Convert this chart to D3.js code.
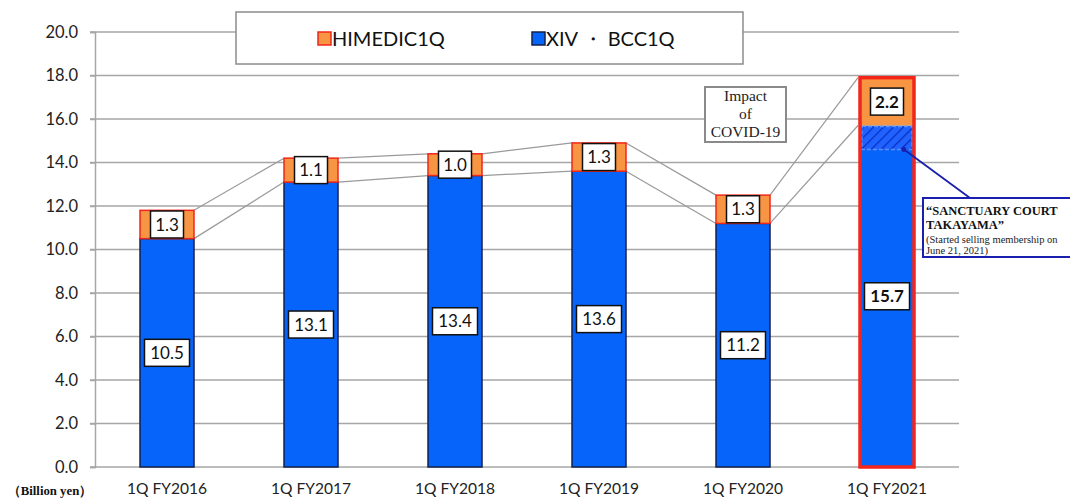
<!DOCTYPE html>
<html>
<head>
<meta charset="utf-8">
<script src="https://cdn.jsdelivr.net/npm/d3@7"></script>
<style>
  html, body { margin: 0; padding: 0; background: #fff; }
  svg { display: block; }
</style>
</head>
<body>
<svg id="chart" width="1070" height="499"></svg>
<script>
// Quarterly sales by segment (billion yen)
const periods = ["1Q FY2016", "1Q FY2017", "1Q FY2018", "1Q FY2019", "1Q FY2020", "1Q FY2021"];
const xivBcc = [10.5, 13.1, 13.4, 13.6, 11.2, 15.7];
const himedic = [1.3, 1.1, 1.0, 1.3, 1.3, 2.2];
// portion of the latest XIV/BCC figure coming from the new resort
const sanctuaryShare = 1.1;
const yTicks = [0, 2, 4, 6, 8, 10, 12, 14, 16, 18, 20];
const seriesNames = ["HIMEDIC1Q", "XIV ・ BCC1Q"];

const BLUE = "#0764fb", ORANGE = "#f79543", RED = "#f2261a", NAVY = "#13204a", GRID = "#a6a6a6";
const NUM_FONT = "Lato, 'Open Sans', sans-serif";
const SERIF = "'Liberation Serif', 'DejaVu Serif', serif";

const svg = d3.select("#chart");
const plotLeft = 95, plotRight = 959, plotTop = 32, plotBottom = 467;

const x = d3.scaleBand().domain(periods).range([plotLeft, plotRight]).paddingInner(0.625).paddingOuter(0.3125);
const y = d3.scaleLinear().domain([0, 20]).range([plotBottom, plotTop]);
const bw = x.bandwidth();

// hatch pattern for the new-resort slice
const defs = svg.append("defs");
const pat = defs.append("pattern").attr("id", "hatch").attr("patternUnits", "userSpaceOnUse")
  .attr("width", 7).attr("height", 7).attr("patternTransform", "rotate(45)");
pat.append("rect").attr("width", 7).attr("height", 7).attr("fill", "#1f62ff");
pat.append("line").attr("x1", 0).attr("y1", 0).attr("x2", 0).attr("y2", 7)
  .attr("stroke", "#0a2fb8").attr("stroke-width", 2.5);

// gridlines
svg.append("g").selectAll("line").data(yTicks).join("line")
  .attr("x1", plotLeft - 5).attr("x2", plotRight).attr("y1", d => y(d)).attr("y2", d => y(d))
  .attr("stroke", GRID).attr("stroke-width", 1.5);

// y axis
const yAxis = d3.axisLeft(y).tickValues(yTicks).tickFormat(d3.format(".1f")).tickSize(5).tickPadding(12);
const ga = svg.append("g").attr("transform", `translate(${plotLeft},0)`).call(yAxis);
ga.select(".domain").attr("stroke", GRID).attr("stroke-width", 1.5);
ga.selectAll(".tick line").attr("stroke", GRID).attr("stroke-width", 1.5);
ga.selectAll(".tick text").attr("font-family", NUM_FONT).attr("font-size", 16.5).attr("fill", "#222");

// x axis labels
const gx = svg.append("g").attr("transform", `translate(0,${plotBottom})`)
  .call(d3.axisBottom(x).tickSize(0).tickPadding(16));
gx.select(".domain").remove();
gx.selectAll(".tick text").attr("font-family", NUM_FONT).attr("font-size", 15).attr("fill", "#222")
  .attr("textLength", 80).attr("lengthAdjust", "spacingAndGlyphs");

svg.append("text").attr("x", 8).attr("y", 495).attr("font-family", SERIF).attr("font-weight", "bold")
  .attr("font-size", 13).attr("fill", "#111").attr("textLength", 84).attr("lengthAdjust", "spacingAndGlyphs")
  .text("（Billion yen）");

// connecting lines between bars
const data = periods.map((p, i) => ({ p, blue: xivBcc[i], orange: himedic[i], total: xivBcc[i] + himedic[i], i }));
const last = data.length - 1;
const lines = svg.append("g");
for (let i = 0; i < last; i++) {
  const a = data[i], b = data[i + 1];
  const xa = x(a.p) + bw, xb = x(b.p) - (i + 1 === last ? 2 : 0);
  ["total", "blue"].forEach(k => {
    lines.append("line").attr("x1", xa).attr("y1", y(a[k])).attr("x2", xb).attr("y2", y(b[k]))
      .attr("stroke", "#9a9a9a").attr("stroke-width", 1.2);
  });
}

const bars = svg.append("g");
data.forEach(d => {
  const bx = x(d.p);
  const isLast = d.i === last;
  bars.append("rect").attr("x", bx).attr("y", y(d.blue)).attr("width", bw).attr("height", y(0) - y(d.blue))
    .attr("fill", BLUE).attr("stroke", isLast ? "none" : NAVY).attr("stroke-width", 1.5);
  bars.append("rect").attr("x", bx).attr("y", y(d.total)).attr("width", bw).attr("height", y(d.blue) - y(d.total))
    .attr("fill", ORANGE).attr("stroke", isLast ? "none" : RED).attr("stroke-width", 1.5);
  if (isLast) {
    bars.append("rect").attr("x", bx + 2).attr("y", y(d.blue) + 1).attr("width", bw - 4)
      .attr("height", y(d.blue - sanctuaryShare) - y(d.blue) - 1)
      .attr("fill", "url(#hatch)").attr("stroke", "#5a8fff").attr("stroke-width", 1.5).attr("stroke-dasharray", "4,2");
    bars.append("rect").attr("x", bx).attr("y", y(d.total)).attr("width", bw).attr("height", y(0) - y(d.total))
      .attr("fill", "none").attr("stroke", RED).attr("stroke-width", 3.5);
  }
});

// value labels
function valueBox(cx, cy, w, txt, bold) {
  const g = svg.append("g");
  g.append("rect").attr("x", cx - w / 2).attr("y", cy - 13.5).attr("width", w).attr("height", 27)
    .attr("fill", "#fff").attr("stroke", "#111").attr("stroke-width", 1.5);
  g.append("text").attr("x", cx).attr("y", cy).attr("dy", "0.36em").attr("text-anchor", "middle")
    .attr("font-family", NUM_FONT).attr("font-size", 17).attr("font-weight", bold ? "bold" : "normal")
    .attr("fill", "#111").text(txt);
}
data.forEach(d => {
  const cx = x(d.p) + bw / 2;
  const bold = d.i === last;
  valueBox(cx, (y(d.total) + y(d.blue)) / 2, 33, d.orange.toFixed(1), bold);
  valueBox(cx, y(d.blue / 2), 45, d.blue.toFixed(1), bold);
});

// legend
const lg = svg.append("g");
lg.append("rect").attr("x", 236).attr("y", 12).attr("width", 507).attr("height", 52)
  .attr("fill", "#fff").attr("stroke", "#8c8c8c").attr("stroke-width", 1.5);
const legendColors = [[ORANGE, RED], [BLUE, NAVY]];
const legendX = [318, 532];
seriesNames.forEach((n, i) => {
  lg.append("rect").attr("x", legendX[i]).attr("y", 32).attr("width", 13).attr("height", 13)
    .attr("fill", legendColors[i][0]).attr("stroke", legendColors[i][1]).attr("stroke-width", 1.5);
  lg.append("text").attr("x", legendX[i] + 14).attr("y", 39).attr("dy", "0.36em")
    .attr("font-family", NUM_FONT).attr("font-size", 20).attr("fill", "#111").text(n);
});

// COVID-19 note
const cv = svg.append("g");
cv.append("rect").attr("x", 705).attr("y", 87).attr("width", 81).attr("height", 55)
  .attr("fill", "#fff").attr("stroke", "#8a8a8a").attr("stroke-width", 2);
["Impact", "of", "COVID-19"].forEach((t, i) => {
  cv.append("text").attr("x", 745.5).attr("y", 101 + i * 18).attr("text-anchor", "middle")
    .attr("font-family", SERIF).attr("font-size", 15.5).attr("fill", "#222").text(t);
});

// new resort callout
const lb = data[last];
const anchorX = x(lb.p) + bw - 10, anchorY = y(lb.blue - sanctuaryShare);
const NOTE = "#1b1fae";
svg.append("line").attr("x1", anchorX).attr("y1", anchorY).attr("x2", 970).attr("y2", 198)
  .attr("stroke", NOTE).attr("stroke-width", 1.8);
svg.append("circle").attr("cx", anchorX).attr("cy", anchorY).attr("r", 2.5).attr("fill", NOTE);
const nt = svg.append("g");
nt.append("rect").attr("x", 923).attr("y", 198).attr("width", 160).attr("height", 59)
  .attr("fill", "#fff").attr("stroke", NOTE).attr("stroke-width", 2);
nt.append("text").attr("x", 926).attr("y", 215).attr("font-family", SERIF).attr("font-weight", "bold")
  .attr("font-size", 12.5).attr("fill", "#111").text("“SANCTUARY COURT");
nt.append("text").attr("x", 926).attr("y", 229).attr("font-family", SERIF).attr("font-weight", "bold")
  .attr("font-size", 12.5).attr("fill", "#111").text("TAKAYAMA”");
nt.append("text").attr("x", 926).attr("y", 243).attr("font-family", SERIF)
  .attr("font-size", 10.5).attr("fill", "#222").text("(Started selling membership on");
nt.append("text").attr("x", 926).attr("y", 254).attr("font-family", SERIF)
  .attr("font-size", 10.5).attr("fill", "#222").text("June 21, 2021)");
</script>
</body>
</html>
